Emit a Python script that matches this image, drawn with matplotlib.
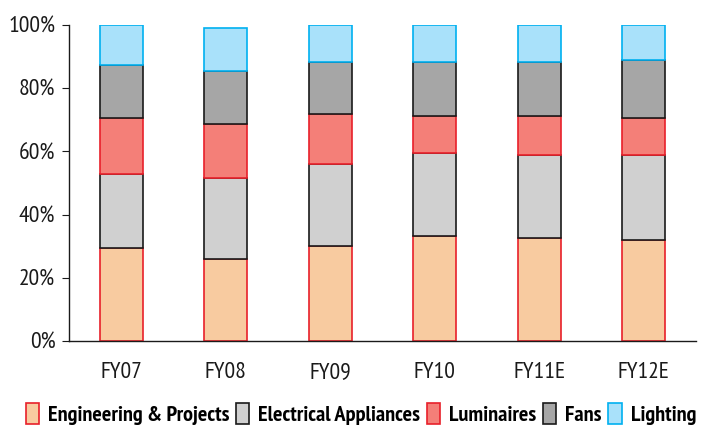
import numpy as np
import matplotlib
matplotlib.use("Agg")
import matplotlib.pyplot as plt

years = ["FY07", "FY08", "FY09", "FY10", "FY11E", "FY12E"]
# segment shares (% of revenue)
eng = [29.4, 25.9, 30.1, 33.2, 32.6, 32.0]
elec = [23.4, 25.7, 25.9, 26.3, 26.3, 26.9]
lum = [17.8, 17.1, 15.8, 11.7, 12.3, 11.7]
fans = [16.7, 16.7, 16.5, 17.1, 17.1, 18.3]
light = [12.7, 13.6, 11.7, 11.7, 11.7, 11.1]

series = [
    ("Engineering & Projects", eng, "#F8CBA0", "#E8202A"),
    ("Electrical Appliances", elec, "#D0D0D0", "#1a1a1a"),
    ("Luminaires", lum, "#F47F78", "#E8202A"),
    ("Fans", fans, "#A6A6A6", "#1a1a1a"),
    ("Lighting", light, "#A9E1FA", "#00B0F0"),
]

FONT = ["PT Sans Narrow", "Liberation Sans", "DejaVu Sans"]
plt.rcParams["font.family"] = FONT
INK = "#1a1a1a"

fig = plt.figure(figsize=(7.06, 4.28), dpi=100)
ax = fig.add_axes([0.098, 0.203, 0.888, 0.739])

x = np.arange(len(years))
bottom = np.zeros(len(years))
for label, vals, fc, ec in series:
    ax.bar(x, vals, 0.41, bottom=bottom, color=fc, edgecolor=ec,
           linewidth=1.2, label=label)
    bottom += np.array(vals)

ax.set_xlim(-0.5, len(years) - 0.5)
ax.set_ylim(0, 100)
ax.set_yticks(np.arange(0, 101, 20))
ax.set_yticklabels([f"{v}%" for v in range(0, 101, 20)], fontsize=17, color=INK)
ax.set_xticks(x)
ax.set_xticklabels(years, fontsize=17, color=INK)
ax.tick_params(axis="x", length=0, pad=15)
ax.tick_params(axis="y", length=5, direction="out", pad=5, color=INK)
for s in ("top", "right"):
    ax.spines[s].set_visible(False)
for s in ("left", "bottom"):
    ax.spines[s].set_color(INK)
    ax.spines[s].set_linewidth(1.0)

ax.legend(loc="center", bbox_to_anchor=(0.465, -0.23), ncol=5,
          frameon=False, handlelength=0.6, handleheight=1.1,
          handletextpad=0.4, columnspacing=0.3,
          prop={"family": FONT, "weight": "bold", "size": 16})

fig.savefig("out.png", dpi=100)
